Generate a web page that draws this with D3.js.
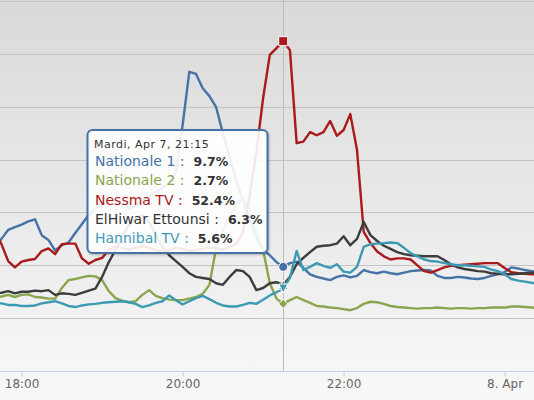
<!DOCTYPE html>
<html>
<head>
<meta charset="utf-8">
<script src="https://cdn.jsdelivr.net/npm/d3@7"></script>
<style>
  html, body { margin: 0; padding: 0; background: #f7f7f7; }
  svg { display: block; font-family: "DejaVu Sans", Verdana, sans-serif; }
</style>
</head>
<body>
<svg id="chart" width="534" height="400"></svg>
<script>
// audience share (%) every 5 minutes, starting 7 Apr 17:40
var startTime = new Date(2015, 3, 7, 17, 40);
var stepMinutes = 5;
var hoverTime = new Date(2015, 3, 7, 21, 15);

var seriesNames = ["Nationale 1", "Nationale 2", "Nessma TV", "ElHiwar Ettounsi", "Hannibal TV"];
var seriesColors = ["#4572A7", "#89A54E", "#AA1A1A", "#3D3D3D", "#3D9AB4"];
var labelColors = ["#4572A7", "#89A54E", "#AA1A1A", "#333333", "#3D9AB4"];
var seriesSymbols = ["circle", "diamond", "square", "triangle", "triangle-down"];

var nationale1 = [13.3, 15.0, 16.7, 17.2, 17.7, 18.3, 18.7, 15.7, 14.8, 12.8,
  13.8, 14.3, 16.1, 17.8, 19.5, 20.8, 21.4, 22.0, 22.3, 21.6,
  20.8, 21.4, 22.3, 23.1, 23.9, 24.6, 25.7, 27.6, 36.5, 46.6,
  46.2, 43.5, 42.0, 39.9, 35.0, 30.5, 26.1, 22.3, 18.6, 15.2,
  12.9, 11.9, 10.6, 9.7, 10.4, 10.7, 9.5, 8.3, 7.8, 7.5,
  7.2, 7.8, 8.1, 7.7, 8.0, 9.1, 8.7, 8.5, 8.8, 8.5,
  8.3, 8.6, 8.9, 9.0, 9.1, 9.0, 8.0, 7.6, 7.6, 7.8,
  7.7, 7.5, 7.4, 7.6, 8.0, 8.3, 8.7, 9.6, 9.4, 9.1,
  8.9, 8.7];

var nationale2 = [4.0, 4.1, 4.4, 4.0, 4.4, 4.5, 4.0, 3.9, 3.7, 3.7,
  5.7, 7.2, 7.4, 7.7, 8.0, 7.9, 7.2, 5.1, 3.8, 3.3,
  3.0, 3.2, 4.4, 5.3, 4.2, 3.8, 3.5, 3.4, 3.4, 3.7,
  4.0, 4.6, 6.3, 13.3, 16.3, 19.5, 21.4, 22.7, 20.5, 16.3,
  12.9, 6.6, 3.7, 2.7, 3.4, 4.0, 3.4, 2.9, 2.3, 2.2,
  2.0, 1.9, 1.7, 1.5, 1.9, 2.7, 3.1, 3.0, 2.7, 2.3,
  2.1, 2.0, 1.9, 1.8, 1.9, 1.9, 2.0, 1.9, 1.8, 1.9,
  1.9, 1.8, 1.9, 1.9, 2.0, 2.0, 2.0, 2.2, 2.2, 2.1,
  2.0, 1.9];

var nessma = [16.3, 14.0, 10.8, 9.6, 10.7, 11.0, 11.2, 12.7, 13.2, 12.1,
  14.0, 14.1, 14.1, 11.3, 10.3, 11.0, 11.4, 12.9, 13.5, 13.3,
  12.9, 13.3, 13.6, 13.3, 12.9, 12.5, 12.9, 13.3, 13.1, 12.7,
  12.9, 13.1, 13.3, 13.3, 12.9, 13.5, 14.0, 16.3, 23.3, 31.4,
  41.6, 49.8, 51.1, 52.4, 50.7, 33.1, 33.4, 35.2, 34.6, 35.2,
  37.3, 34.5, 35.6, 38.6, 31.8, 16.3, 14.2, 12.6, 11.7, 11.1,
  11.3, 11.3, 11.1, 10.0, 8.9, 8.6, 9.1, 9.6, 9.9, 10.0,
  10.1, 10.2, 10.3, 10.4, 10.4, 10.4, 9.5, 8.7, 8.5, 8.4,
  8.3, 8.3];

var elhiwar = [4.7, 4.8, 5.1, 4.7, 5.0, 5.0, 5.2, 5.1, 5.3, 4.4,
  4.7, 4.6, 4.4, 4.8, 5.2, 5.6, 7.8, 10.6, 12.9, 15.5,
  17.6, 18.9, 19.5, 18.2, 15.7, 13.5, 11.9, 10.8, 9.7, 8.5,
  7.8, 7.6, 7.4, 6.6, 6.3, 7.8, 9.1, 8.9, 7.8, 5.3,
  5.7, 6.6, 6.8, 6.3, 7.8, 10.2, 11.4, 12.5, 13.5, 13.7,
  13.8, 14.1, 15.5, 13.8, 15.0, 18.2, 15.7, 14.6, 13.7, 13.1,
  12.5, 12.1, 11.9, 11.8, 11.7, 11.7, 11.7, 11.0, 10.2, 9.6,
  9.3, 9.1, 8.9, 8.8, 8.5, 8.4, 8.3, 8.3, 8.4, 8.5,
  8.6, 8.6];

var hannibal = [2.9, 2.8, 2.5, 2.5, 2.3, 2.3, 2.4, 2.8, 3.0, 3.2,
  2.8, 2.3, 2.1, 2.4, 2.6, 2.7, 2.9, 3.0, 3.1, 3.2,
  3.0, 2.7, 2.1, 2.4, 2.9, 3.2, 4.3, 3.4, 2.6, 3.2,
  3.8, 4.2, 3.6, 2.9, 2.4, 2.2, 2.2, 2.5, 2.9, 2.7,
  3.5, 4.3, 4.9, 5.6, 7.6, 12.7, 9.1, 9.7, 10.4, 9.9,
  9.5, 10.2, 8.8, 8.6, 9.7, 13.5, 14.0, 14.1, 14.2, 14.3,
  14.2, 13.3, 12.3, 11.7, 11.1, 10.8, 10.7, 10.4, 10.2, 10.0,
  10.0, 9.9, 9.8, 9.7, 9.2, 8.9, 8.3, 7.4, 7.1, 6.9,
  6.7, 6.6];

var seriesValues = [nationale1, nationale2, nessma, elhiwar, hannibal];
var jours = ["Dimanche", "Lundi", "Mardi", "Mercredi", "Jeudi", "Vendredi", "Samedi"];

var width = 534, height = 400;
var plotTop = 1, plotBottom = 371;

var svg = d3.select("#chart");
var defs = svg.append("defs");

var grad = defs.append("linearGradient")
  .attr("id", "bg").attr("x1", 0).attr("y1", 0).attr("x2", 0).attr("y2", 1);
grad.append("stop").attr("offset", "0%").attr("stop-color", "#d9d9d9");
grad.append("stop").attr("offset", "100%").attr("stop-color", "#f8f8f8");

defs.append("clipPath").attr("id", "plot-clip")
  .append("rect").attr("x", 0).attr("y", 0).attr("width", width).attr("height", plotBottom);

svg.append("rect").attr("width", width).attr("height", height).attr("fill", "url(#bg)");

var times = nationale1.map(function(d, i) {
  return d3.timeMinute.offset(startTime, i * stepMinutes);
});

var x = d3.scaleTime()
  .domain([new Date(2015, 3, 7, 18, 0), new Date(2015, 3, 8, 0, 0)])
  .range([21.6, 504.6]);
var y = d3.scaleLinear().domain([-10, 60]).range([plotBottom, plotTop]);

// horizontal grid
svg.append("g").selectAll("line")
  .data(y.ticks(7).filter(function(v) { return v > -10; }))
  .join("line")
  .attr("x1", 0).attr("x2", width)
  .attr("y1", function(d) { return Math.round(y(d)) + 0.5; })
  .attr("y2", function(d) { return Math.round(y(d)) + 0.5; })
  .attr("stroke", "#c4c4c4")
  .attr("stroke-width", 1.2);

// crosshair
var hx = Math.round(x(hoverTime)) + 0.5;
svg.append("line")
  .attr("x1", hx).attr("x2", hx).attr("y1", 0).attr("y2", plotBottom)
  .attr("stroke", "#bdbdbd").attr("stroke-width", 1);

// x axis
var xAxis = d3.axisBottom(x)
  .ticks(d3.timeHour.every(2))
  .tickSize(5)
  .tickFormat(function(d) {
    return d.getHours() === 0 ? d3.timeFormat("%-d. %b")(d) : d3.timeFormat("%H:%M")(d);
  });

var axisG = svg.append("g")
  .attr("transform", "translate(0," + (plotBottom + 0.5) + ")")
  .call(xAxis);
axisG.select(".domain").remove();
axisG.selectAll(".tick line").attr("stroke", "#C0D0E0");
axisG.selectAll(".tick text")
  .attr("fill", "#666")
  .style("font-size", "12px")
  .style("font-family", "'DejaVu Sans', Verdana, sans-serif");

svg.append("line")
  .attr("x1", 0).attr("x2", width)
  .attr("y1", plotBottom + 0.5).attr("y2", plotBottom + 0.5)
  .attr("stroke", "#C0D0E0").attr("stroke-width", 1);

// series lines
var line = d3.line()
  .x(function(d, i) { return x(times[i]); })
  .y(function(d) { return y(d); });

var linesG = svg.append("g").attr("clip-path", "url(#plot-clip)");
seriesValues.forEach(function(values, s) {
  linesG.append("path")
    .datum(values)
    .attr("d", line)
    .attr("fill", "none")
    .attr("stroke", seriesColors[s])
    .attr("stroke-width", 2.4)
    .attr("stroke-linejoin", "round")
    .attr("stroke-linecap", "round");
});

// hover markers
var hoverIndex = times.findIndex(function(t) { return t.getTime() === hoverTime.getTime(); });

function symbolPath(type, cx, cy, r) {
  if (type === "square") {
    return "M" + (cx - r) + "," + (cy - r) + "H" + (cx + r) + "V" + (cy + r) + "H" + (cx - r) + "Z";
  } else if (type === "diamond") {
    return "M" + cx + "," + (cy - r) + "L" + (cx + r) + "," + cy + "L" + cx + "," + (cy + r) + "L" + (cx - r) + "," + cy + "Z";
  } else if (type === "triangle") {
    return "M" + cx + "," + (cy - r) + "L" + (cx + r) + "," + (cy + r) + "L" + (cx - r) + "," + (cy + r) + "Z";
  } else if (type === "triangle-down") {
    return "M" + (cx - r) + "," + (cy - r) + "L" + (cx + r) + "," + (cy - r) + "L" + cx + "," + (cy + r) + "Z";
  }
  return null;
}

var markersG = svg.append("g");
seriesValues.forEach(function(values, s) {
  var cx = x(times[hoverIndex]), cy = y(values[hoverIndex]);
  if (seriesSymbols[s] === "circle") {
    markersG.append("circle")
      .attr("cx", cx).attr("cy", cy).attr("r", 4.5)
      .attr("fill", seriesColors[s]).attr("stroke", "#fff").attr("stroke-width", 1);
  } else {
    markersG.append("path")
      .attr("d", symbolPath(seriesSymbols[s], cx, cy, 4.5))
      .attr("fill", seriesColors[s]).attr("stroke", "#fff").attr("stroke-width", 1);
  }
});

// tooltip
var tip = { x: 87.5, y: 130, w: 180, h: 123 };
var tipG = svg.append("g");
[5, 3, 1].forEach(function(w, k) {
  tipG.append("rect")
    .attr("x", tip.x + 1).attr("y", tip.y + 1).attr("width", tip.w).attr("height", tip.h)
    .attr("rx", 5).attr("fill", "none")
    .attr("stroke", "rgba(0,0,0," + [0.04, 0.07, 0.12][k] + ")")
    .attr("stroke-width", w);
});
tipG.append("rect")
  .attr("x", tip.x).attr("y", tip.y).attr("width", tip.w).attr("height", tip.h)
  .attr("rx", 5)
  .attr("fill", "rgba(255,255,255,0.9)")
  .attr("stroke", "#4572A7")
  .attr("stroke-width", 2);

var ht = times[hoverIndex];
tipG.append("text")
  .attr("x", 94).attr("y", 148)
  .attr("fill", "#333")
  .style("font-size", "11px")
  .style("letter-spacing", "0.5px")
  .text(jours[ht.getDay()] + ", " + d3.timeFormat("%b %-d, %H:%M")(ht));

var rowY = [165.5, 185, 204.5, 224, 243];
seriesNames.forEach(function(name, s) {
  var nameText = tipG.append("text")
    .attr("x", 95).attr("y", rowY[s])
    .attr("fill", labelColors[s])
    .style("font-size", "14px")
    .text(name + " :");
  var w = nameText.node().getComputedTextLength();
  tipG.append("text")
    .attr("x", 95 + w + 9).attr("y", rowY[s])
    .attr("fill", "#333")
    .style("font-size", "12.5px")
    .style("font-weight", "bold")
    .text(d3.format(".1f")(seriesValues[s][hoverIndex]) + "%");
});
</script>
</body>
</html>
